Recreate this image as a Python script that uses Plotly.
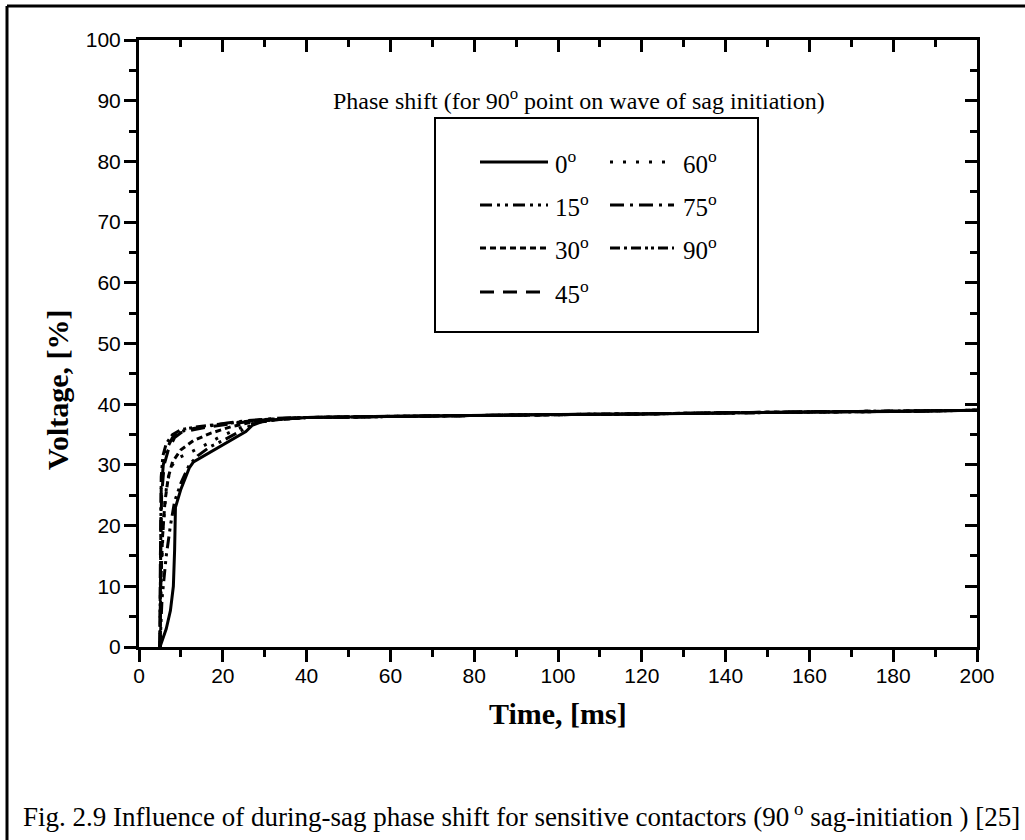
import plotly.graph_objects as go

# ---------------- data ----------------
tail_t = [40, 60, 80, 100, 120, 140, 160, 180, 200]
tail_v = [37.8, 38.0, 38.1, 38.3, 38.4, 38.6, 38.7, 38.8, 39.0]

t_0 = [5, 6.5, 7.5, 8.2, 8.5, 8.7, 10, 12, 13, 18, 22, 25.5, 27, 30]
v_0 = [0, 3, 6, 10, 16, 23, 26, 29.5, 30.5, 32.5, 34, 35.5, 36.5, 37.3]

t_15 = [5, 5.5, 6.5, 7.5, 8.5, 10, 12, 14, 17, 20, 24, 28, 35]
v_15 = [0, 8, 15, 20, 24, 27, 30, 31.5, 33, 34, 35.5, 37, 37.6]

t_30 = [5, 5.2, 5.6, 6.2, 7, 8, 10, 13, 17, 22, 28, 35]
v_30 = [0, 10, 18, 24, 28, 30.5, 32.5, 34, 35.2, 36.3, 37.2, 37.6]

t_45 = [5, 5.1, 5.4, 6, 7, 8.5, 10, 13, 17, 22, 28, 35]
v_45 = [0, 15, 25, 30, 32.5, 34.5, 35.3, 35.8, 36.3, 36.8, 37.3, 37.7]

t_60 = [5, 5.3, 5.8, 6.5, 7.5, 9, 12, 15, 19, 23, 27, 33]
v_60 = [0, 12, 20, 26, 29.5, 31, 32, 33, 34.5, 35.8, 36.8, 37.5]

t_75 = [5, 5.1, 5.3, 5.8, 6.5, 8, 10, 13, 17, 21, 26, 33]
v_75 = [0, 18, 26, 30, 32.5, 34.5, 35.5, 36, 36.5, 36.9, 37.3, 37.7]

t_90 = [5, 5.1, 5.3, 5.7, 6.5, 8, 10, 14, 19, 24, 30]
v_90 = [0, 20, 28, 31.5, 33.5, 35, 35.8, 36.3, 36.7, 37.1, 37.5]

series_names = ["0", "15", "30", "45", "60", "75", "90"]
series_t = [t_0, t_15, t_30, t_45, t_60, t_75, t_90]
series_v = [v_0, v_15, v_30, v_45, v_60, v_75, v_90]

x_ticks = [0, 20, 40, 60, 80, 100, 120, 140, 160, 180, 200]
y_ticks = [0, 10, 20, 30, 40, 50, 60, 70, 80, 90, 100]

# ---------------- styles ----------------
dashes = {
    "0": "solid",
    "15": "12px,5px,3px,5px,3px,5px",
    "30": "6px,4px",
    "45": "14px,9px",
    "60": "3px,10px",
    "75": "14px,6px,3px,6px",
    "90": "10px,4px,3px,4px,10px,4px,3px,3px,3px,4px",
}
LW = 3
SERIF = "Liberation Serif, Times New Roman, serif"
SANS = "Liberation Sans, Arial, sans-serif"

fig = go.Figure()
for name, tt, vv in zip(series_names, series_t, series_v):
    fig.add_trace(go.Scatter(
        x=tt + tail_t, y=vv + tail_v, mode="lines", name=name + "°",
        line=dict(color="black", width=LW, dash=dashes[name]),
        showlegend=False, hoverinfo="skip"))

# dummy trace to activate mirrored (top/right) axes
fig.add_trace(go.Scatter(x=[None], y=[None], xaxis="x2", yaxis="y2",
                         showlegend=False, hoverinfo="skip"))

W, H = 1025, 840
L, R, T, B = 139, 48, 40, 193

axis_common = dict(showgrid=False, zeroline=False, linecolor="black",
                   linewidth=3, tickcolor="black", tickwidth=2.5)

fig.update_layout(
    width=W, height=H, margin=dict(l=L, r=R, t=T, b=B),
    paper_bgcolor="white", plot_bgcolor="white", showlegend=False,
    xaxis=dict(range=[0, 200], tickvals=x_ticks, ticks="outside", ticklen=12,
               showline=True, ticklabelstandoff=-4,
               minor=dict(dtick=10, ticks="outside", ticklen=7, tickwidth=2.5, tickcolor="black"),
               tickfont=dict(family=SANS, size=21, color="black"),
               **axis_common),
    yaxis=dict(range=[0, 100], tickvals=y_ticks, ticks="outside", ticklen=12,
               showline=True, ticklabelstandoff=-1,
               minor=dict(dtick=5, ticks="outside", ticklen=7, tickwidth=2.5, tickcolor="black"),
               tickfont=dict(family=SANS, size=21, color="black"),
               **axis_common),
    xaxis2=dict(range=[0, 200], overlaying="x", side="top", tickvals=x_ticks,
                ticks="inside", ticklen=12, showline=True, showticklabels=False,
                minor=dict(dtick=10, ticks="inside", ticklen=7, tickwidth=2.5, tickcolor="black"),
                **axis_common),
    yaxis2=dict(range=[0, 100], overlaying="y", side="right", tickvals=y_ticks,
                ticks="inside", ticklen=12, showline=True, showticklabels=False,
                minor=dict(dtick=5, ticks="inside", ticklen=7, tickwidth=2.5, tickcolor="black"),
                **axis_common),
)

def px_x(p):
    return (p - L) / (W - L - R)

def px_y(p):
    return (H - B - p) / (H - T - B)

shapes = []
annotations = []

# axis titles
annotations.append(dict(xref="paper", yref="paper", x=px_x(558), y=px_y(713),
                        text="<b>Time, [ms]</b>", showarrow=False,
                        xanchor="center", yanchor="middle",
                        font=dict(family=SERIF, size=30, color="black")))
annotations.append(dict(xref="paper", yref="paper", x=px_x(57), y=px_y(390),
                        text="<b>Voltage, [%]</b>", showarrow=False, textangle=-90,
                        xanchor="center", yanchor="middle",
                        font=dict(family=SERIF, size=30, color="black")))

# legend box
shapes.append(dict(type="rect", xref="paper", yref="paper",
                   x0=px_x(435), x1=px_x(758), y0=px_y(332), y1=px_y(118),
                   line=dict(color="black", width=2)))

# legend title
annotations.append(dict(xref="paper", yref="paper", x=px_x(579), y=px_y(99),
                        text="Phase shift (for 90<sup>o</sup> point on wave of sag initiation)",
                        showarrow=False, xanchor="center", yanchor="middle",
                        font=dict(family=SERIF, size=24, color="black")))

# legend entries: column-major, 4 rows
col_line = [(480, 548), (610, 674)]
col_label = [553, 681]
row_y = [162, 205, 248, 292]
for i, name in enumerate(series_names):
    c, r = divmod(i, 4)
    x0, x1 = col_line[c]
    yy = px_y(row_y[r])
    shapes.append(dict(type="line", xref="paper", yref="paper",
                       x0=px_x(x0), x1=px_x(x1), y0=yy, y1=yy,
                       line=dict(color="black", width=LW, dash=dashes[name])))
    annotations.append(dict(xref="paper", yref="paper", x=px_x(col_label[c]), y=yy,
                            text=name + "<sup>o</sup>", showarrow=False,
                            xanchor="left", yanchor="middle",
                            font=dict(family=SERIF, size=25, color="black")))

# outer frame (top & left visible)
shapes.append(dict(type="line", xref="paper", yref="paper",
                   x0=px_x(7), x1=px_x(1025), y0=px_y(6), y1=px_y(6),
                   line=dict(color="black", width=3)))
shapes.append(dict(type="line", xref="paper", yref="paper",
                   x0=px_x(7), x1=px_x(7), y0=px_y(6), y1=px_y(845),
                   line=dict(color="black", width=3)))

# caption
annotations.append(dict(xref="paper", yref="paper", x=px_x(21), y=px_y(815),
                        text="Fig. 2.9 Influence of during-sag phase shift for sensitive contactors (90<sup> o</sup> sag-initiation ) [25]",
                        showarrow=False, xanchor="left", yanchor="middle",
                        font=dict(family=SERIF, size=27, color="black")))

fig.update_layout(shapes=shapes, annotations=annotations)
fig.write_html("out.html", config={"displayModeBar": False},
               post_script="document.body.style.margin='0';document.body.style.overflow='hidden';")
